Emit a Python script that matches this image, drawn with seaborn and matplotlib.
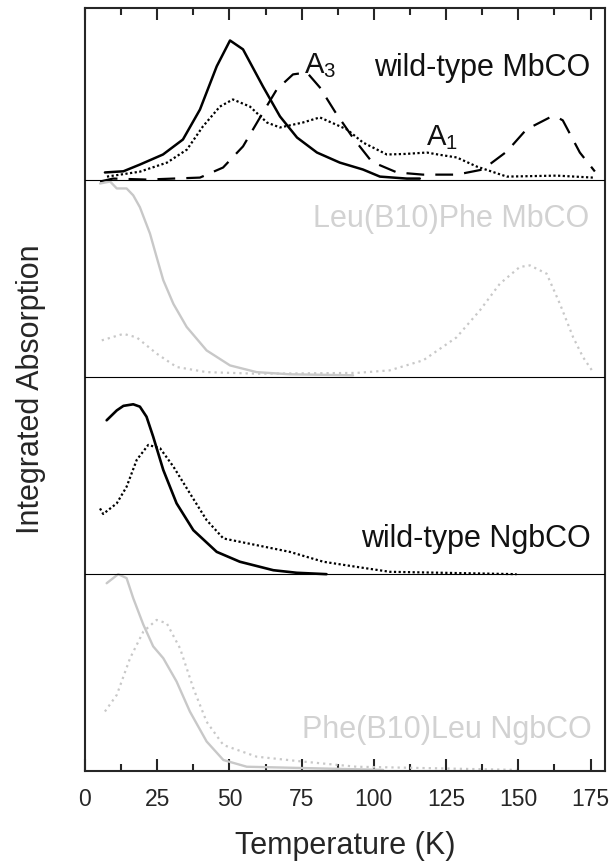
import numpy as np
import matplotlib
matplotlib.use("Agg")
import matplotlib.pyplot as plt
from matplotlib.ticker import MultipleLocator
import seaborn as sns

sns.set_style("ticks")
plt.rcParams["font.family"] = ["Liberation Sans", "DejaVu Sans"]
plt.rcParams["mathtext.default"] = "regular"

# ---- data (temperature in K, integrated absorption in a.u.; each panel = 1 unit) ----
# wild-type MbCO
wt_mb_solid_T = [6.9, 13.3, 19.0, 27.0, 33.9, 39.8, 45.6, 50.2, 54.7, 61.6, 67.5, 73.4, 80.3, 88.2, 96.2, 102.1, 111.4, 115.9]
wt_mb_solid_A = [0.036, 0.042, 0.076, 0.127, 0.203, 0.355, 0.574, 0.705, 0.66, 0.472, 0.32, 0.213, 0.137, 0.086, 0.051, 0.015, 0.005, 0.005]
wt_mb_dash_T = [5.2, 9.7, 21.5, 39.8, 47.8, 54.7, 61.6, 66.4, 72.0, 76.8, 81.3, 86.5, 92.7, 99.3, 108.0, 117.0, 128.7, 137.7, 146.0, 152.8, 160.9, 163.2, 165.4, 171.3, 176.5]
wt_mb_dash_A = [-0.01, 0.005, 0.0, 0.01, 0.061, 0.168, 0.34, 0.457, 0.533, 0.543, 0.467, 0.345, 0.213, 0.09, 0.036, 0.025, 0.025, 0.051, 0.142, 0.254, 0.315, 0.318, 0.30, 0.137, 0.041]
wt_mb_dot_T = [7.6, 19.0, 28.4, 35.3, 40.8, 46.7, 51.2, 57.1, 63.0, 67.5, 75.4, 81.3, 90.7, 96.2, 104.5, 111.0, 118.3, 123.0, 128.7, 135.6, 146.0, 163.3, 175.8]
wt_mb_dot_A = [0.015, 0.04, 0.086, 0.152, 0.269, 0.37, 0.406, 0.37, 0.289, 0.264, 0.289, 0.315, 0.254, 0.188, 0.127, 0.13, 0.137, 0.125, 0.112, 0.066, 0.015, 0.02, 0.01]

# Leu(B10)Phe MbCO
lf_mb_solid_T = [5.2, 8.7, 11.0, 14.4, 16.7, 19.0, 22.5, 24.8, 27.1, 30.6, 35.2, 42.1, 50.2, 59.4, 70.9, 92.8]
lf_mb_solid_A = [0.98, 0.99, 0.955, 0.955, 0.92, 0.86, 0.726, 0.607, 0.49, 0.37, 0.253, 0.134, 0.058, 0.024, 0.013, 0.008]
lf_mb_dot_T = [5.8, 13.3, 17.9, 24.8, 31.7, 42.1, 59.4, 94.0, 105.5, 117.1, 128.6, 136.7, 143.6, 150.5, 154.0, 159.8, 164.4, 169.0, 172.4, 175.9]
lf_mb_dot_A = [0.185, 0.218, 0.2, 0.118, 0.05, 0.024, 0.016, 0.02, 0.033, 0.084, 0.2, 0.337, 0.472, 0.557, 0.565, 0.523, 0.37, 0.2, 0.1, 0.024]

# wild-type NgbCO
wt_ngb_solid_T = [7.5, 11.0, 13.3, 16.7, 19.0, 21.3, 23.6, 27.1, 31.7, 37.5, 45.6, 53.6, 65.2, 73.3, 83.6]
wt_ngb_solid_A = [0.78, 0.83, 0.853, 0.861, 0.849, 0.798, 0.697, 0.528, 0.359, 0.223, 0.113, 0.063, 0.02, 0.007, 0.0]
wt_ngb_dot_T = [5.2, 6.3, 11.0, 14.4, 17.9, 21.9, 26.0, 30.6, 36.3, 42.1, 47.9, 59.4, 70.9, 82.5, 94.0, 105.5, 149.4]
wt_ngb_dot_A = [0.333, 0.305, 0.359, 0.443, 0.579, 0.655, 0.638, 0.545, 0.41, 0.274, 0.181, 0.147, 0.113, 0.063, 0.037, 0.012, 0.0]

# Phe(B10)Leu NgbCO
fl_ngb_solid_T = [7.5, 11.5, 14.4, 16.7, 20.2, 23.6, 27.1, 31.7, 36.3, 42.1, 47.9, 56.0, 103.2]
fl_ngb_solid_A = [0.954, 1.0, 0.98, 0.878, 0.744, 0.634, 0.574, 0.456, 0.304, 0.152, 0.058, 0.024, 0.008]
fl_ngb_dot_T = [6.9, 11.0, 15.6, 20.2, 24.8, 28.3, 32.9, 37.5, 42.1, 47.9, 59.4, 75.5, 94.0, 149.4]
fl_ngb_dot_A = [0.304, 0.388, 0.574, 0.709, 0.768, 0.751, 0.624, 0.422, 0.252, 0.134, 0.075, 0.05, 0.024, 0.008]

panel_names = ["wild-type MbCO", "Leu(B10)Phe MbCO", "wild-type NgbCO", "Phe(B10)Leu NgbCO"]
x_ticks = [0, 25, 50, 75, 100, 125, 150, 175]

BLACK = "black"
GRAY = "#c8c8c8"
TEXT_GRAY = "#d2d2d2"

fig = plt.figure(figsize=(6.15, 8.64), dpi=100)
ax = fig.add_axes([0.1382, 0.1071, 0.9837 - 0.1382, 0.9913 - 0.1071])


def draw(T, A, offset, color, ls, lw=1.6):
    y = np.asarray(A) + offset
    sns.lineplot(x=T, y=y, ax=ax, color=color, linestyle=ls, lw=lw,
                 sort=False, estimator=None)


dot = (0, (1, 1.1))
gdot = (0, (1, 1.8))
dash = (0, (8, 5))

# panel 1 (top)
draw(wt_mb_solid_T, wt_mb_solid_A, 3, BLACK, "-", 1.8)
draw(wt_mb_dash_T, wt_mb_dash_A, 3, BLACK, dash, 1.6)
draw(wt_mb_dot_T, wt_mb_dot_A, 3, BLACK, dot, 1.6)
# panel 2
draw(lf_mb_solid_T, lf_mb_solid_A, 2, GRAY, "-", 1.7)
draw(lf_mb_dot_T, lf_mb_dot_A, 2, GRAY, gdot, 1.6)
# panel 3
draw(wt_ngb_solid_T, wt_ngb_solid_A, 1, BLACK, "-", 1.9)
draw(wt_ngb_dot_T, wt_ngb_dot_A, 1, BLACK, dot, 1.6)
# panel 4
draw(fl_ngb_solid_T, fl_ngb_solid_A, 0, GRAY, "-", 1.7)
draw(fl_ngb_dot_T, fl_ngb_dot_A, 0, GRAY, gdot, 1.6)

# separators between panels
for yb in [1, 2, 3]:
    ax.axhline(yb, color="black", lw=0.8, zorder=5)

# panel labels
ax.text(175.0, 3.527, panel_names[0], ha="right", va="baseline", fontsize=22, color="#111111")
ax.text(174.5, 2.758, panel_names[1], ha="right", va="baseline", fontsize=22, color=TEXT_GRAY)
ax.text(175.0, 1.139, panel_names[2], ha="right", va="baseline", fontsize=22, color="#111111")
ax.text(175.5, 0.168, panel_names[3], ha="right", va="baseline", fontsize=22, color=TEXT_GRAY)
ax.text(75.8, 3.54, r"A$_{3}$", ha="left", va="baseline", fontsize=21, color="#111111")
ax.text(118.0, 3.175, r"A$_{1}$", ha="left", va="baseline", fontsize=21, color="#111111")

ax.set_xlim(0, 180)
ax.set_ylim(0, 3.872)
ax.set_xticks(x_ticks)
ax.set_xticklabels([str(t) for t in x_ticks])
ax.xaxis.set_minor_locator(MultipleLocator(12.5))
ax.set_yticks([])
ax.tick_params(axis="x", which="major", direction="in", length=8.5, width=1.5,
               top=True, bottom=True, labelsize=16.5, pad=12)
ax.tick_params(axis="x", which="minor", direction="in", length=5, width=1.5,
               top=True, bottom=True)
for sp in ax.spines.values():
    sp.set_linewidth(1.5)
    sp.set_visible(True)

ax.set_xlabel("Temperature (K)", fontsize=22, labelpad=14)
ax.set_ylabel("Integrated Absorption", fontsize=22, labelpad=28)

fig.savefig("out.png", dpi=100)
